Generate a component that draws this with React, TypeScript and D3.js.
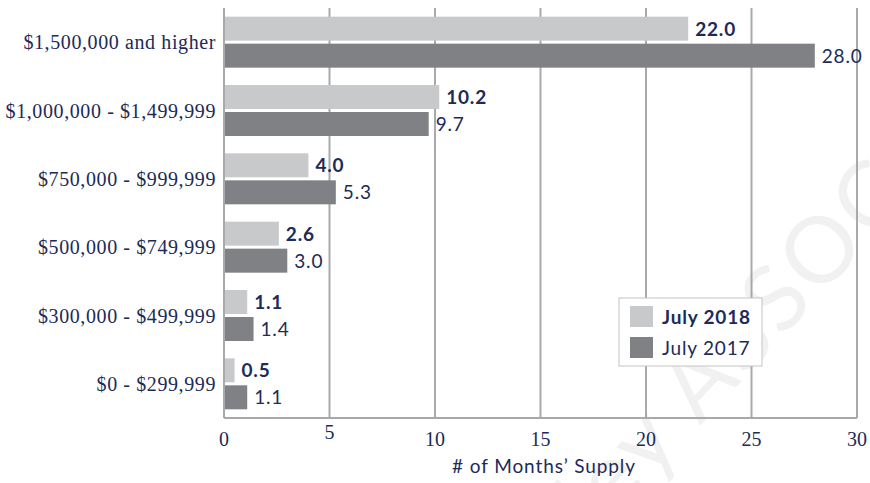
import { useEffect, useRef } from 'react'
import * as d3 from 'd3'

const categories = [
  '$1,500,000 and higher',
  '$1,000,000 - $1,499,999',
  '$750,000 - $999,999',
  '$500,000 - $749,999',
  '$300,000 - $499,999',
  '$0 - $299,999',
]
const july2018 = [22.0, 10.2, 4.0, 2.6, 1.1, 0.5]
const july2017 = [28.0, 9.7, 5.3, 3.0, 1.4, 1.1]
const seriesNames = ['July 2018', 'July 2017']
const xTicks = [0, 5, 10, 15, 20, 25, 30]

const navy = '#1c2b57'
const gridColor = '#a9a9ad'
const colors = ['#c8c9cb', '#808184']
const sans = 'Lato, sans-serif'
const serif = '"Liberation Serif", "DejaVu Serif", serif'

const App: React.FC = () => {
  const svgRef = useRef<SVGSVGElement>(null)

  useEffect(() => {
    if (!svgRef.current) return
    const width = 870
    const height = 483
    const margin = { top: 8, right: 13, bottom: 65, left: 224 }

    const svg = d3.select(svgRef.current)
      .attr('width', width)
      .attr('height', height)
    svg.selectAll('*').remove()

    // faint watermark
    svg.append('text')
      .attr('transform', 'translate(505,635) rotate(-47)')
      .attr('font-family', sans)
      .attr('font-size', 92)
      .attr('fill', '#f1f1f1')
      .attr('letter-spacing', 4)
      .text('Valley ASSOC')

    const x = d3.scaleLinear().domain([0, 30]).range([margin.left, width - margin.right])
    const y = d3.scaleBand<string>().domain(categories).range([margin.top, height - margin.bottom]).padding(0)
    const ySub = d3.scaleBand<string>().domain(seriesNames)
      .range([0, y.bandwidth()]).paddingInner(0.111).paddingOuter(0.321)

    const g = svg.append('g')

    // gridlines
    g.selectAll('.grid')
      .data(xTicks)
      .enter().append('line')
      .attr('x1', d => x(d)).attr('x2', d => x(d))
      .attr('y1', margin.top).attr('y2', height - margin.bottom)
      .style('stroke', gridColor)
      .style('stroke-width', '2px')

    g.append('line')
      .attr('x1', x(0)).attr('x2', x(30))
      .attr('y1', height - margin.bottom).attr('y2', height - margin.bottom)
      .style('stroke', gridColor)
      .style('stroke-width', '2px')

    const data = [july2018, july2017]
    data.forEach((vals, si) => {
      const name = seriesNames[si]
      g.selectAll(`.bar${si}`)
        .data(vals)
        .enter().append('rect')
        .attr('x', x(0) + 1)
        .attr('y', (_, i) => (y(categories[i]) as number) + (ySub(name) as number))
        .attr('width', d => x(d) - x(0) - 1)
        .attr('height', ySub.bandwidth())
        .style('fill', colors[si])

      g.selectAll(`.val${si}`)
        .data(vals)
        .enter().append('text')
        .attr('x', d => x(d) + 7)
        .attr('y', (_, i) => (y(categories[i]) as number) + (ySub(name) as number) + ySub.bandwidth() / 2)
        .attr('dy', '0.36em')
        .attr('font-family', sans)
        .attr('font-size', 19)
        .attr('letter-spacing', 0.8)
        .attr('font-weight', si === 0 ? 700 : 400)
        .attr('fill', navy)
        .text(d => d.toFixed(1))
    })

    // category labels
    g.selectAll('.cat')
      .data(categories)
      .enter().append('text')
      .attr('x', margin.left - 8)
      .attr('y', d => (y(d) as number) + y.bandwidth() / 2)
      .attr('dy', '0.35em')
      .attr('text-anchor', 'end')
      .attr('font-family', serif)
      .attr('font-size', 20)
      .attr('letter-spacing', 0.6)
      .attr('fill', navy)
      .text(d => d)

    // x tick labels
    g.selectAll('.tick')
      .data(xTicks)
      .enter().append('text')
      .attr('x', d => x(d))
      .attr('y', d => (d === 5 ? 439 : 446))
      .attr('text-anchor', 'middle')
      .attr('font-family', serif)
      .attr('font-size', 20)
      .attr('fill', navy)
      .text(d => d)

    g.append('text')
      .attr('x', 544)
      .attr('y', 473)
      .attr('text-anchor', 'middle')
      .attr('font-family', sans)
      .attr('font-size', 19)
      .attr('letter-spacing', 0.9)
      .attr('fill', navy)
      .text('# of Months\u2019 Supply')

    // legend
    const lg = svg.append('g').attr('transform', 'translate(619,298)')
    lg.append('rect')
      .attr('width', 143).attr('height', 68)
      .style('fill', '#fff')
      .style('stroke', '#c4c4c6')
      .style('stroke-width', '1px')
    seriesNames.forEach((s, i) => {
      lg.append('rect')
        .attr('x', 11).attr('y', 8 + i * 31)
        .attr('width', 23).attr('height', 21)
        .style('fill', colors[i])
      lg.append('text')
        .attr('x', 43).attr('y', 19 + i * 31)
        .attr('dy', '0.36em')
        .attr('font-family', sans)
        .attr('font-size', 19)
        .attr('letter-spacing', 0.8)
        .attr('font-weight', i === 0 ? 700 : 400)
        .attr('fill', navy)
        .text(s)
    })
  }, [])

  return (
    <div style={{ position: 'absolute', left: 0, top: 0 }}>
      <svg ref={svgRef} style={{ display: 'block' }}></svg>
    </div>
  )
}

export default App
